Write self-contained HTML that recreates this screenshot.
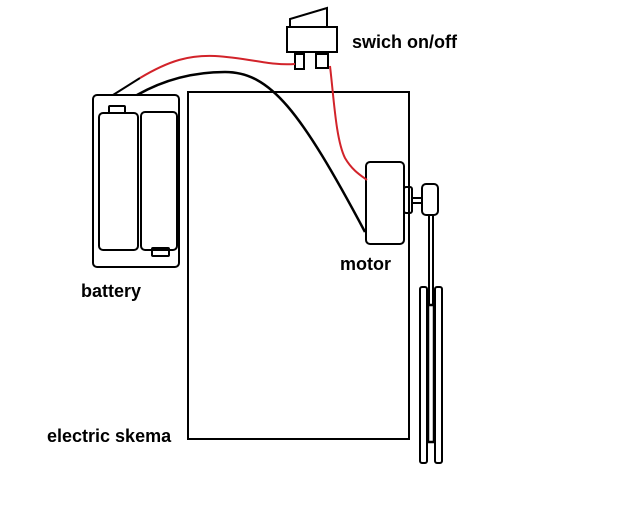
<!DOCTYPE html>
<html><head><style>
body{margin:0;background:#fff;}
svg{display:block;}
text{font-family:"Liberation Sans",sans-serif;font-weight:bold;font-size:18px;fill:#000;}
</style></head><body>
<svg width="620" height="521" viewBox="0 0 620 521" xmlns="http://www.w3.org/2000/svg">
<g fill="none" stroke="#000" stroke-width="2">
<rect x="188" y="92" width="221" height="347"/>
<rect x="93" y="95" width="86" height="172" rx="4"/>
<rect x="99" y="113" width="39" height="137" rx="4"/>
<rect x="141" y="112" width="36" height="138" rx="4"/>
<rect x="109" y="106" width="16" height="7" rx="1"/>
<rect x="152" y="248" width="17" height="8" rx="1"/>
<rect x="287" y="27" width="50" height="25"/>
<path d="M290 27 L290 19 L327 8 L327 27"/>
<rect x="295" y="54" width="9" height="15"/>
<rect x="316" y="54" width="12" height="14"/>
<rect x="366" y="162" width="38" height="82" rx="4"/>
<rect x="404" y="187" width="8" height="26" rx="2"/>
<rect x="412" y="198" width="10" height="5"/>
<rect x="422" y="184" width="16" height="31" rx="4"/>
<line x1="429" y1="215" x2="429" y2="305"/>
<line x1="433" y1="215" x2="433" y2="305"/>
<rect x="420" y="287" width="7" height="176" rx="2"/>
<rect x="435" y="287" width="7" height="176" rx="2"/>
<rect x="428" y="305" width="6" height="137" stroke-width="2.5"/>
</g>
<path d="M113 95 L140 78" stroke="#000" stroke-width="2" fill="none"/>
<path d="M140 78 C170 60 190 55 215 56 C250 58 270 66 295 64" stroke="#d2232a" stroke-width="2" fill="none"/>
<path d="M137 95 C160 82 190 72 225 72 C270 72 300 110 365 232" stroke="#000" stroke-width="2.5" fill="none"/>
<path d="M330 66 C334 100 336 140 345 158 C352 170 360 175 367 180" stroke="#d2232a" stroke-width="2" fill="none"/>
<text x="352" y="48">swich on/off</text>
<text x="340" y="270">motor</text>
<text x="81" y="297">battery</text>
<text x="47" y="442">electric skema</text>
</svg>
</body></html>
